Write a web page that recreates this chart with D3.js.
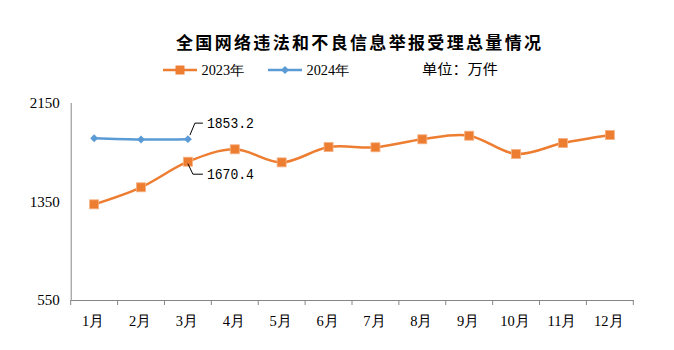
<!DOCTYPE html>
<html><head><meta charset="utf-8">
<script src="https://cdn.jsdelivr.net/npm/d3@7"></script>
<style>body{margin:0;background:#fff;} svg{display:block;}</style>
</head><body>
<svg id="c" width="674" height="350"></svg>
<script>
const months = ["1月","2月","3月","4月","5月","6月","7月","8月","9月","10月","11月","12月"];
const series2023 = [1325,1463,1670.4,1771,1665,1789,1787,1852,1881,1733,1822,1887];
const series2024 = [1860,1850,1853.2];
const yTicks = [550,1350,2150];
const title = "全国网络违法和不良信息举报受理总量情况";
const unitLabel = "单位：万件";

const svg = d3.select("#c");
svg.append("rect").attr("width",674).attr("height",350).attr("fill","#fff");

const x = d3.scaleBand().domain(months).range([70.7,633.3]);
const y = d3.scaleLinear().domain([550,2150]).range([300,102.5]);
const cx = d => x(d) + x.bandwidth()/2;

const orange = "#ED7D31", blue = "#5B9BD5", axisCol = "#868686";
const serif = "'Liberation Serif','Times New Roman',serif";
const cjk = "'Noto Sans CJK SC',sans-serif";

// title
svg.append("text").attr("x",358.5).attr("y",48.5).attr("text-anchor","middle")
  .attr("font-family",cjk).attr("font-weight","bold").attr("font-size",17)
  .attr("textLength",365).attr("lengthAdjust","spacing").attr("fill","#000").text(title);

// y axis
const yAxis = svg.append("g").attr("transform","translate(70.7,0)")
  .call(d3.axisLeft(y).tickValues(yTicks).tickSize(0).tickPadding(11).tickFormat(d3.format("d")));
yAxis.select(".domain").attr("stroke",axisCol);
yAxis.selectAll("text").attr("font-family",serif).attr("font-size",15).attr("fill","#000");

// x axis
const xAxis = svg.append("g").attr("transform","translate(0,300)")
  .call(d3.axisBottom(x).tickSize(0).tickPadding(0));
xAxis.select(".domain").attr("stroke",axisCol);
xAxis.selectAll(".tick text").attr("font-family",serif).attr("font-size",14.5).attr("fill","#000")
  .attr("y",26).attr("dy",0).attr("dx",-1);
// boundary ticks
const bounds = months.map(m => x(m)).concat([x.range()[1]]);
svg.append("g").selectAll("line").data(bounds).join("line")
  .attr("x1",d=>d).attr("x2",d=>d).attr("y1",300).attr("y2",305).attr("stroke",axisCol);

const line = d3.line().x((d,i)=>cx(months[i])).y(d=>y(d)).curve(d3.curveCardinal.tension(0));

svg.append("path").datum(series2023).attr("d",line).attr("fill","none")
  .attr("stroke",orange).attr("stroke-width",2.5);
svg.append("path").datum(series2024).attr("d",line).attr("fill","none")
  .attr("stroke",blue).attr("stroke-width",2.5);

const sq = 9;
svg.append("g").selectAll("rect").data(series2023).join("rect")
  .attr("x",(d,i)=>cx(months[i])-sq/2).attr("y",d=>y(d)-sq/2)
  .attr("width",sq).attr("height",sq).attr("fill",orange).attr("stroke","#F4B183").attr("stroke-width",0.8);

const diamond = d3.symbol().type(d3.symbolDiamond2).size(40);
svg.append("g").selectAll("path").data(series2024).join("path")
  .attr("transform",(d,i)=>`translate(${cx(months[i])},${y(d)})`)
  .attr("d",diamond).attr("fill",blue);

// data labels with leader lines
const mono = "'Liberation Mono','DejaVu Sans Mono',monospace";
function label(val, seriesY, dir){
  const px = cx(months[2]), py = y(seriesY);
  const ly = dir < 0 ? py - 16 : py + 12.5;
  svg.append("polyline")
    .attr("points", dir<0 ? `${px+2},${py-4} ${px+7},${ly} ${px+15},${ly}` : `${px},${py+2} ${px+5},${ly} ${px+15},${ly}`)
    .attr("fill","none").attr("stroke","#000").attr("stroke-width",1);
  svg.append("text").attr("x",px+19).attr("y",ly+5).attr("font-family",mono).attr("font-size",15)
    .attr("textLength",47).attr("lengthAdjust","spacingAndGlyphs").attr("fill","#000")
    .text(d3.format(".1f")(val));
}
label(series2024[2], series2024[2], -1);
label(series2023[2], series2023[2], 1);

// legend
const lg = svg.append("g");
function legendItem(x0, color, isSquare, text){
  lg.append("line").attr("x1",x0).attr("x2",x0+34).attr("y1",70).attr("y2",70)
    .attr("stroke",color).attr("stroke-width",2.5);
  if(isSquare){
    lg.append("rect").attr("x",x0+17-4.5).attr("y",70-4.5).attr("width",9).attr("height",9).attr("fill",color);
  } else {
    lg.append("path").attr("transform",`translate(${x0+17},70)`).attr("d",diamond).attr("fill",color);
  }
  lg.append("text").attr("x",x0+38.5).attr("y",75).attr("font-family",serif).attr("font-size",14)
    .attr("textLength",43).attr("lengthAdjust","spacingAndGlyphs").attr("fill","#000").text(text);
}
legendItem(163, orange, true, "2023年");
legendItem(268, blue, false, "2024年");
svg.append("text").attr("x",422).attr("y",73.5).attr("font-family",cjk).attr("font-size",14)
  .attr("textLength",76).attr("lengthAdjust","spacingAndGlyphs").attr("fill","#000").text(unitLabel);
</script>
</body></html>
